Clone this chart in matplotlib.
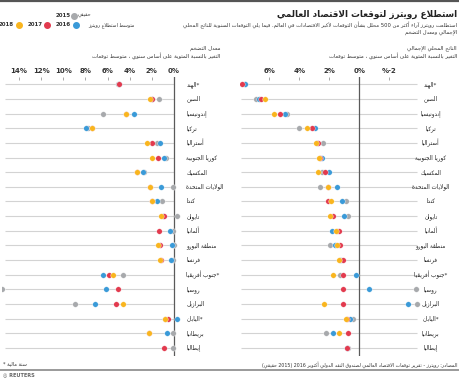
import re
import numpy as np
import matplotlib
matplotlib.use("Agg")
import matplotlib.pyplot as plt

nan = np.nan

countries = ["الهند*", "الصين", "إندونيسيا", "تركيا", "أستراليا", "كوريا الجنوبية",
             "المكسيك", "الولايات المتحدة", "كندا", "تايوان", "ألمانيا", "منطقة اليورو",
             "فرنسا", "جنوب أفريقيا*", "روسيا", "البرازيل", "اليابان*", "بريطانيا", "إيطاليا"]

# GDP growth, % change year on year
gdp_2015 = [7.6, 6.9, 4.8, 4.0, 2.4, 2.6, 2.5, 2.6, 0.9, 0.75, 1.5, 1.95, 1.2, 1.3, -3.75, -3.85, 0.45, 2.2, 0.75]
gdp_2016 = [7.6, 6.7, 4.95, 2.95, 2.8, 2.47, 2.0, 1.47, 1.16, 1.04, 1.84, 1.65, 1.3, 0.24, -0.65, -3.25, 0.62, 1.78, 0.8]
gdp_2017 = [7.8, 6.55, 5.3, 3.15, 2.75, 2.65, 2.3, 2.1, 2.07, 1.73, 1.35, 1.29, 1.11, 1.06, 1.06, 1.06, 0.8, 0.78, 0.8]
gdp_2018 = [nan, 6.3, 5.7, 3.47, 2.9, 2.67, 2.78, 2.07, 1.9, 1.95, 1.57, 1.51, 1.35, 1.78, nan, 2.35, 0.86, 1.35, nan]

# inflation, % change year on year
inf_2015 = [5.1, 1.35, 6.4, 7.75, 1.55, 0.7, 2.7, 0.05, 1.1, -0.3, 0.05, 0.03, 0.05, 4.6, 15.5, 8.95, 0.8, 0.05, 0.05]
inf_2016 = [5.0, 2.0, 3.65, 7.95, 1.25, 0.9, 2.8, 1.15, 1.55, 1.0, 0.35, 0.2, 0.3, 6.4, 6.1, 7.15, -0.25, 0.65, nan]
inf_2017 = [4.95, 1.95, 4.3, 7.4, 2.0, 1.45, 3.3, 2.15, 1.95, 0.9, 1.35, 1.25, 1.2, 5.85, 5.1, 5.2, 0.55, 2.25, 0.95]
inf_2018 = [nan, 2.15, 4.35, 7.4, 2.4, 2.0, 3.35, 2.15, 2.0, 1.15, nan, 1.45, 1.25, 5.5, nan, 4.6, 0.85, 2.25, nan]

years = ["2015", "2016", "2017", "2018"]
colors = ["#a7a9ac", "#3a9ad8", "#e23a4e", "#f9b51e"]

inf_ticks = [14, 12, 10, 8, 6, 4, 2, 0]
inf_tick_labels = ["14%", "12%", "10%", "8%", "6%", "4%", "2%", "0%"]
gdp_ticks = [6, 4, 2, 0, -2]
gdp_tick_labels = ["6%", "4%", "2%", "0%", "%-2"]

# --- simple arabic shaping (matplotlib does not join letters) ---
LETTERS = "ءآأؤإئابةتثجحخدذرزسشصضطظعغفقكلمنهوىي"
COUNTS = [1, 2, 2, 2, 2, 4, 2, 4, 2, 4, 4, 4, 4, 4, 2, 2, 2, 2, 4, 4,
          4, 4, 4, 4, 4, 4, 4, 4, 4, 4, 4, 4, 4, 2, 2, 4]
forms = {}
code = 0xFE80
for ch, n in zip(LETTERS, COUNTS):
    forms[ch] = (code, n)
    code += n
LAM_ALEF = {"آ": 0xFEF5, "أ": 0xFEF7, "إ": 0xFEF9, "ا": 0xFEFB}
MIRROR = {"(": ")", ")": "("}


def joins_next(ch):
    return ch in forms and forms[ch][1] == 4


def shape(text):
    out = []
    prev = None
    i = 0
    while i < len(text):
        ch = text[i]
        if ch not in forms:
            out.append(ch)
            prev = None
            i += 1
            continue
        left = prev is not None and joins_next(prev)
        if ch == "ل" and i + 1 < len(text) and text[i + 1] in LAM_ALEF:
            out.append(chr(LAM_ALEF[text[i + 1]] + (1 if left else 0)))
            prev = "ا"
            i += 2
            continue
        nxt = text[i + 1] if i + 1 < len(text) else None
        right = joins_next(ch) and nxt in forms and nxt != "ء"
        base, n = forms[ch]
        if n == 1:
            f = base
        elif left and right:
            f = base + 3
        elif left:
            f = base + 1
        elif right:
            f = base + 2
        else:
            f = base
        out.append(chr(f))
        prev = ch
        i += 1
    return "".join(out)


def rtl(text):
    parts = re.findall(r"[0-9A-Za-z][0-9A-Za-z%.]*|.", shape(text))
    return "".join(MIRROR.get(p, p) for p in reversed(parts))


def label(text):
    if text.endswith("*"):
        return rtl(text[:-1]) + "*"
    return rtl(text)


W, H = 459, 378
fig = plt.figure(figsize=(W / 100, H / 100), dpi=100)
fig.patch.set_facecolor("white")


def px_rect(x0, y0, x1, y1):
    return [x0 / W, 1 - y1 / H, (x1 - x0) / W, (y1 - y0) / H]


def ftext(x, y, s, **kw):
    kw.setdefault("family", "DejaVu Sans")
    fig.text(x / W, 1 - y / H, s, **kw)


rows = np.arange(len(countries))


def panel(rect, xlim, line_from, line_to, ticks, tick_labels, series, label_x, label_ha):
    ax = fig.add_axes(rect)
    ax.set_xlim(*xlim)
    ax.set_ylim(len(countries) - 0.45, -0.5)
    ax.hlines(rows, line_from, line_to, color="#d3d3d3", lw=0.8, zorder=1)
    ax.axvline(0, color="#5a5a5a", lw=0.9, zorder=2)
    for k, (vals, c) in enumerate(zip(series, colors)):
        ax.scatter(vals, rows, s=16, color=c, edgecolors="white", linewidths=0.25, zorder=3 + k)
    for s in ax.spines.values():
        s.set_visible(False)
    ax.set_yticks([])
    ax.set_xticks(ticks)
    ax.set_xticklabels(tick_labels, fontsize=5, fontweight="bold", color="#333333")
    ax.xaxis.tick_top()
    ax.tick_params(axis="x", direction="in", length=2, width=0.6, color="#999999", pad=2)
    for i, name in enumerate(countries):
        ax.text(label_x, i, label(name), transform=ax.get_yaxis_transform(),
                fontsize=4.1, ha=label_ha, va="center", color="#222222")
    return ax


ax_inf = panel(px_rect(2.4, 77, 180, 356), (15.5, -0.54), 15.3, 0, inf_ticks, inf_tick_labels,
               [inf_2015, inf_2016, inf_2017, inf_2018], 1.035, "left")
ax_gdp = panel(px_rect(240, 77, 420, 356), (7.95, -4.05), 7.85, -3.85, gdp_ticks, gdp_tick_labels,
               [gdp_2015, gdp_2016, gdp_2017, gdp_2018], 1.06, "center")

# header
fig.add_artist(plt.Line2D([0, 1], [1 - 1 / H, 1 - 1 / H], color="#555555", lw=1.6))
ftext(457, 14, rtl("استطلاع رويترز لتوقعات الاقتصاد العالمي"), fontsize=6.4,
      fontweight="bold", ha="right", va="center", color="#222222")
ftext(457, 25, rtl("استطلعت رويترز آراء أكثر من 500 محلل بشأن التوقعات لأكبر الاقتصادات في العالم. فيما يلي التوقعات السنوية للناتج المحلي"),
      fontsize=3.8, ha="right", va="center", color="#333333")
ftext(457, 32.5, rtl("الإجمالي ومعدل التضخم"), fontsize=3.8, ha="right", va="center", color="#333333")

# legend
ftext(78, 15.7, rtl("حقيقي"), fontsize=3.6, ha="left", va="center", color="#333333")
ftext(88, 25, rtl("متوسط استطلاع رويترز"), fontsize=3.4, ha="left", va="center", color="#333333")
leg_x = [74, 76, 47, 19]
leg_y = [15.7, 25, 25, 25]
leg_text_x = [70.5, 70.5, 43, 14]
for k in range(4):
    fig.add_artist(plt.Line2D([leg_x[k] / W], [1 - leg_y[k] / H], marker="o", markersize=4,
                              color=colors[k], lw=0))
    ftext(leg_text_x[k], leg_y[k], years[k], fontsize=4, fontweight="bold",
          ha="right", va="center", color="#333333")

# panel headings
sub = rtl("التغير بالنسبة المئوية على أساس سنوي ، متوسط توقعات")
ftext(457, 48, rtl("الناتج المحلي الإجمالي"), fontsize=3.9, ha="right", va="center", color="#333333")
ftext(457, 56, sub, fontsize=3.9, ha="right", va="center", color="#333333")
ftext(220, 48, rtl("معدل التضخم"), fontsize=3.9, ha="right", va="center", color="#333333")
ftext(220, 56, sub, fontsize=3.9, ha="right", va="center", color="#333333")

# footer
ftext(458, 365, rtl("المصادر: رويترز - تقرير توقعات الاقتصاد العالمي لصندوق النقد الدولي أكتوبر 2016 (2015 حقيقي)"),
      fontsize=3.4, ha="right", va="center", color="#333333")
ftext(3, 364, "* " + rtl("سنة مالية"), fontsize=3.6, ha="left", va="center", color="#333333")
fig.add_artist(plt.Line2D([0, 1], [1 - 370 / H, 1 - 370 / H], color="#9a9a9a", lw=1.4))
ftext(3, 374.5, "◎ REUTERS", fontsize=3.6, fontweight="bold", ha="left", va="center", color="#666666")

fig.savefig("out.png", dpi=100, facecolor="white")
